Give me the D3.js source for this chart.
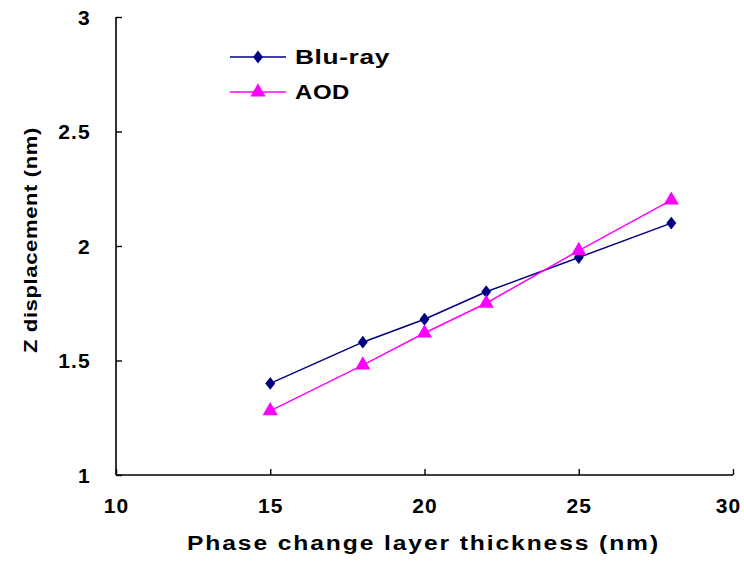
<!DOCTYPE html>
<html>
<head>
<meta charset="utf-8">
<script src="https://cdnjs.cloudflare.com/ajax/libs/d3/7.8.5/d3.min.js"></script>
<style>
  body { margin: 0; background: #fff; }
  svg { display: block; }
  text { font-family: "Liberation Sans", Arial, sans-serif; font-weight: bold; fill: #000; }
</style>
</head>
<body>
<svg id="chart" width="744" height="561"></svg>
<script>
// Z displacement against phase change layer thickness
const thickness = [15, 18, 20, 22, 25, 28];
const bluRay = [1.40, 1.58, 1.68, 1.80, 1.95, 2.10];
const aod = [1.28, 1.48, 1.62, 1.75, 1.98, 2.20];
const xTicks = [10, 15, 20, 25, 30];
const yTicks = [1, 1.5, 2, 2.5, 3];
const seriesNames = ["Blu-ray", "AOD"];

const svg = d3.select("#chart");
const x = d3.scaleLinear().domain([10, 30]).range([116, 733]);
const y = d3.scaleLinear().domain([1, 3]).range([475, 17]);

// Axes with inward ticks
const xAxis = svg.append("g").attr("transform", `translate(0,${y(1)})`)
  .call(d3.axisBottom(x).tickValues(xTicks).tickSize(-6).tickPadding(23).tickFormat(d3.format("d")));
const yAxis = svg.append("g").attr("transform", `translate(${x(10)},0)`)
  .call(d3.axisLeft(y).tickValues(yTicks).tickSize(-6).tickPadding(25).tickFormat(d => d));
[xAxis, yAxis].forEach(g => {
  g.attr("font-family", null).attr("font-size", null);
  g.select(".domain").attr("stroke", "#000").attr("stroke-width", 1.6);
  g.selectAll(".tick line").attr("stroke", "#000").attr("stroke-width", 1.4);
  g.selectAll(".tick text").style("font-size", "21px").style("letter-spacing", "1.2px")
    .attr("fill", "#000");
});
// keep the domain without end caps
xAxis.select(".domain").attr("d", `M${x(10)},0H${x(30)}`);
yAxis.select(".domain").attr("d", `M0,${y(1)}V${y(3)}`);
yAxis.selectAll(".tick text").attr("dy", "0.35em");
xAxis.selectAll(".tick text").attr("dx", d => d === 30 ? -5 : 0);

// Axis titles
svg.append("text")
  .attr("x", 187).attr("y", 550)
  .attr("textLength", 473).attr("lengthAdjust", "spacingAndGlyphs")
  .style("font-size", "19.5px").style("letter-spacing", "1.5px")
  .text("Phase change layer thickness (nm)");
svg.append("text")
  .attr("transform", "translate(37,353) rotate(-90)")
  .attr("textLength", 226).attr("lengthAdjust", "spacingAndGlyphs")
  .style("font-size", "19px").style("letter-spacing", "0.5px")
  .text("Z displacement (nm)");

const line = d3.line().x((d, i) => x(thickness[i])).y(d => y(d));
const colors = ["#000080", "#ff00ff"];
const symbols = [d3.symbolDiamond, d3.symbolTriangle];
const sizes = [85, 100];
const allSeries = [bluRay, aod];

allSeries.forEach((vals, s) => {
  svg.append("path").datum(vals)
    .attr("fill", "none").attr("stroke", colors[s]).attr("stroke-width", 1.5)
    .attr("d", line);
  svg.selectAll(null).data(vals).enter().append("path")
    .attr("transform", (d, i) => `translate(${x(thickness[i])},${y(d)})` + (s === 0 ? " scale(1,0.75)" : ""))
    .attr("d", d3.symbol().type(symbols[s]).size(sizes[s]))
    .attr("fill", colors[s]);
});

// Legend
const legend = svg.append("g");
const legendWidths = [95, 55];
seriesNames.forEach((name, s) => {
  const ly = 57 + s * 35;
  legend.append("line").attr("x1", 230).attr("x2", 286).attr("y1", ly).attr("y2", ly)
    .attr("stroke", colors[s]).attr("stroke-width", 1.5);
  legend.append("path")
    .attr("transform", `translate(258,${ly})` + (s === 0 ? " scale(1,0.75)" : ""))
    .attr("d", d3.symbol().type(symbols[s]).size(sizes[s]))
    .attr("fill", colors[s]);
  legend.append("text").attr("x", 295).attr("y", ly + 7)
    .attr("textLength", legendWidths[s]).attr("lengthAdjust", "spacingAndGlyphs")
    .style("font-size", "20.5px").style("letter-spacing", "0.5px")
    .text(name);
});
</script>
</body>
</html>
